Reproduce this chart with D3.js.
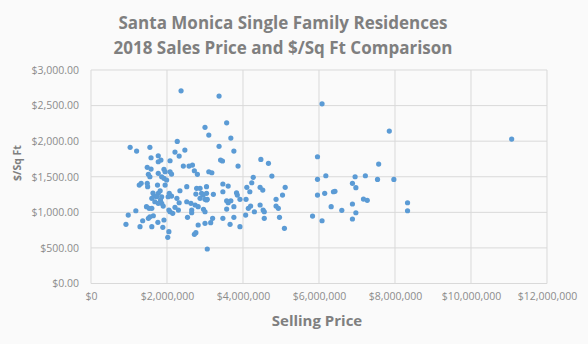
<!DOCTYPE html>
<html>
<head>
<meta charset="utf-8">
<script src="https://cdn.jsdelivr.net/npm/d3@7"></script>
<style>
  body { margin: 0; background: #f6f6f6; }
  #chart { width: 588px; height: 344px; }
  text { font-family: "Open Sans", "DejaVu Sans", sans-serif; }
</style>
</head>
<body>
<div id="chart"></div>
<script>
// Selling price in $M
const prices = [
  2.37, 3.0, 3.1, 2.27, 1.03, 1.2, 1.55, 2.21, 2.32, 2.47,
  1.58, 1.77, 1.84, 1.77, 2.08, 1.48, 1.58, 1.92, 2.43, 2.58,
  2.67, 2.72, 2.8, 1.77, 1.86, 1.51, 1.55, 2.08, 2.12, 3.1,
  1.48, 1.27, 1.32, 1.75, 1.95, 1.49, 2.52, 2.78, 2.87, 3.04,
  2.34, 2.06, 1.82, 1.77, 1.66, 1.6, 1.86, 1.83, 2.76, 2.12,
  2.26, 2.87, 3.0, 1.68, 1.77, 1.86, 2.52, 2.63, 3.04, 2.32,
  1.9, 1.46, 1.53, 1.6, 2.74, 2.82, 2.21, 2.05, 2.08, 2.65,
  2.65, 2.96, 3.0, 2.15, 1.18, 0.98, 1.64, 1.55, 1.51, 2.54,
  1.36, 1.92, 1.76, 0.92, 1.29, 1.6, 1.89, 2.82, 3.0, 2.05,
  2.76, 2.72, 2.02, 3.06,
  3.18, 4.76, 4.27, 4.23, 3.47, 3.61, 4.1, 4.45, 4.52, 5.11,
  5.96, 3.47, 3.83, 3.85, 4.18, 2.91, 3.04, 3.22, 5.04, 5.96,
  3.06, 3.57, 3.68, 3.61, 3.92, 4.08, 4.87, 4.45, 4.2, 4.14,
  3.76, 4.87, 4.93, 3.57, 4.3, 4.53, 4.56, 4.07, 4.96, 5.83,
  3.2, 3.47, 3.76, 4.56, 3.15, 3.66, 3.92, 5.09,
  3.37, 3.57, 3.68, 3.37, 3.76, 3.41, 3.46, 3.87, 4.47, 4.67,
  5.96, 6.08, 7.85, 7.57, 6.18, 6.95, 7.22, 6.88, 6.97, 7.54,
  7.97, 6.38, 6.42, 6.15, 7.17, 7.27, 6.32, 6.88, 6.6, 6.97,
  8.33, 8.33, 6.08, 6.88, 11.07,
  2.95, 2.3, 1.95, 1.92, 1.99, 2.03, 1.63, 1.73
];

// Price per square foot, same order
const pricePerSqFt = [
  2708, 2194, 2086, 1997, 1913, 1861, 1913, 1847, 1791, 1875,
  1767, 1795, 1735, 1711, 1725, 1632, 1608, 1604, 1650, 1650,
  1664, 1584, 1534, 1548, 1500, 1534, 1500, 1570, 1538, 1570,
  1407, 1383, 1407, 1383, 1383, 1360, 1360, 1337, 1337, 1360,
  1303, 1267, 1303, 1267, 1229, 1197, 1219, 1173, 1257, 1229,
  1197, 1197, 1183, 1149, 1126, 1126, 1149, 1126, 1173, 1135,
  1088, 1079, 1056, 1056, 1103, 1079, 1070, 1032, 1008, 1032,
  994, 1042, 1008, 986, 1022, 962, 952, 938, 916, 930,
  882, 892, 860, 831, 798, 798, 789, 822, 846, 728,
  714, 691, 649, 485,
  1556, 1510, 1492, 1416, 1398, 1369, 1351, 1351, 1313, 1351,
  1464, 1289, 1275, 1243, 1289, 1267, 1267, 1253, 1243, 1243,
  1183, 1163, 1163, 1135, 1183, 1183, 1183, 1103, 1088, 1056,
  1079, 1088, 1056, 1046, 1008, 1032, 1008, 962, 930, 948,
  916, 916, 930, 916, 854, 831, 798, 775,
  2634, 2258, 2043, 1927, 1861, 1735, 1721, 1650, 1744, 1688,
  1781, 2525, 2142, 1678, 1514, 1500, 1514, 1407, 1346, 1463,
  1463, 1289, 1295, 1267, 1187, 1169, 1079, 1117, 1028, 994,
  1135, 1022, 882, 906, 2030,
  1243, 1032, 1570, 1478, 1454, 1219, 1271, 1219
];

const xTicks = [0, 2e6, 4e6, 6e6, 8e6, 10e6, 12e6];
const yTicks = [0, 500, 1000, 1500, 2000, 2500, 3000];
const titleLines = ["Santa Monica Single Family Residences", "2018 Sales Price and $/Sq Ft Comparison"];

const points = prices.map((p, i) => ({ price: p * 1e6, psf: pricePerSqFt[i] }));

const W = 588, H = 344;
const margin = { top: 70, right: 41, bottom: 60.5, left: 91 };
const width = W - margin.left - margin.right;
const height = H - margin.top - margin.bottom;

const svg = d3.select("#chart")
    .append("svg")
    .attr("width", W)
    .attr("height", H);

svg.append("rect")
    .attr("width", W)
    .attr("height", H)
    .attr("fill", "#fafafa");

const g = svg.append("g")
    .attr("transform", `translate(${margin.left},${margin.top})`);

const x = d3.scaleLinear().domain([0, 12e6]).range([0, width]);
const y = d3.scaleLinear().domain([0, 3000]).range([height, 0]);

// Gridlines
g.append("g")
    .selectAll("line")
    .data(yTicks)
    .enter()
    .append("line")
    .attr("x1", 0)
    .attr("x2", width)
    .attr("y1", d => y(d))
    .attr("y2", d => y(d))
    .attr("stroke", "#d9d9d9")
    .attr("stroke-width", 1);

g.append("g")
    .selectAll("line")
    .data(xTicks)
    .enter()
    .append("line")
    .attr("y1", 0)
    .attr("y2", height)
    .attr("x1", d => x(d))
    .attr("x2", d => x(d))
    .attr("stroke", "#d9d9d9")
    .attr("stroke-width", 1);

// Axes (labels only)
const fmtY = d => "$" + d3.format(",.2f")(d);
const fmtX = d => "$" + d3.format(",")(d);

const yAxis = g.append("g")
    .call(d3.axisLeft(y).tickValues(yTicks).tickFormat(fmtY).tickSize(0).tickPadding(12));
yAxis.select(".domain").remove();
yAxis.selectAll("text")
    .attr("fill", "#8c8c8c")
    .style("font-size", "10.5px");

const xAxis = g.append("g")
    .attr("transform", `translate(0,${height})`)
    .call(d3.axisBottom(x).tickValues(xTicks).tickFormat(fmtX).tickSize(0).tickPadding(9));
xAxis.select(".domain").remove();
xAxis.selectAll("text")
    .attr("fill", "#8c8c8c")
    .style("font-size", "10.5px");

// Points
g.append("g")
    .selectAll("circle")
    .data(points)
    .enter()
    .append("circle")
    .attr("cx", d => x(d.price))
    .attr("cy", d => y(d.psf))
    .attr("r", 2.6)
    .attr("fill", "#5b9bd5");

// Titles
svg.append("g")
    .selectAll("text")
    .data(titleLines)
    .enter()
    .append("text")
    .attr("x", 283)
    .attr("y", (d, i) => 29 + i * 25)
    .attr("text-anchor", "middle")
    .attr("fill", "#7f7f7f")
    .style("font-size", "17px")
    .style("font-weight", "bold")
    .text(d => d);

svg.append("text")
    .attr("x", 317)
    .attr("y", 326)
    .attr("text-anchor", "middle")
    .attr("fill", "#7f7f7f")
    .style("font-size", "15px")
    .style("font-weight", "bold")
    .text("Selling Price");

svg.append("text")
    .attr("transform", "translate(21,163) rotate(-90)")
    .attr("text-anchor", "middle")
    .attr("fill", "#7f7f7f")
    .style("font-size", "10.5px")
    .style("font-weight", "bold")
    .text("$/Sq Ft");
</script>
</body>
</html>
